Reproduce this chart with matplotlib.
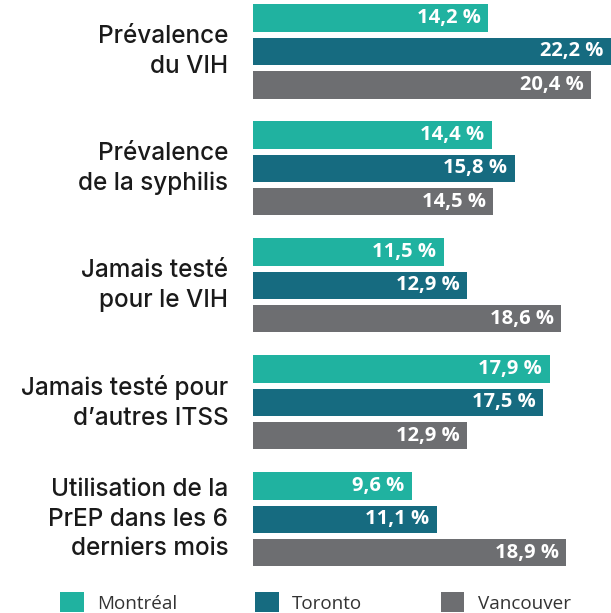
import matplotlib
matplotlib.use("Agg")
import matplotlib.pyplot as plt
from matplotlib.patches import Patch
import numpy as np

categories = ["Prévalence\ndu VIH",
              "Prévalence\nde la syphilis",
              "Jamais testé\npour le VIH",
              "Jamais testé pour\nd\u2019autres ITSS",
              "Utilisation de la\nPrEP dans les 6\nderniers mois"]
cities = ["Montréal", "Toronto", "Vancouver"]
montreal = [14.2, 14.4, 11.5, 17.9, 9.6]
toronto = [22.2, 15.8, 12.9, 17.5, 11.1]
vancouver = [20.4, 14.5, 18.6, 12.9, 18.9]
colors = ["#20B2A0", "#166B80", "#6D6E71"]

plt.rcParams['font.family'] = ['Open Sans', 'DejaVu Sans']

fig = plt.figure(figsize=(6.11, 6.13), dpi=100)
ax = fig.add_axes([253 / 611, 0.0, 1 - 253 / 611, 1.0])

xmax = 21.6
pitch = 0.286
height = 0.232
y = np.arange(len(categories))
series = [montreal, toronto, vancouver]
for k, (vals, col) in enumerate(zip(series, colors)):
    pos = y + (k - 1) * pitch
    ax.barh(pos, vals, height=height, color=col, linewidth=0)
    for p, v in zip(pos, vals):
        xe = min(v, xmax)
        ax.text(xe - 0.45, p, ("%.1f" % v).replace(".", ",") + " %",
                ha="right", va="center", color="white",
                fontsize=14.5, fontweight="bold")

for i, cat in enumerate(categories):
    ax.text(-1.5, i, cat, ha="right", va="center", fontsize=17.5,
            fontweight="medium", color="#1a1a1a", linespacing=1.36,
            family=["Inter", "DejaVu Sans"],
            transform=ax.transData, clip_on=False)

ax.set_xlim(0, xmax)
ax.set_ylim(4.80, -0.44)
ax.axis("off")

handles = [Patch(facecolor=c, edgecolor="none") for c in colors]
fig.legend(handles, cities, loc="lower left", bbox_to_anchor=(43 / 611, -0.027),
           ncol=3, frameon=False, fontsize=13.6, handlelength=1.25,
           handleheight=1.25, handletextpad=0.7, columnspacing=4.15,
           labelcolor="#333333")

fig.savefig("out.png", dpi=100)
